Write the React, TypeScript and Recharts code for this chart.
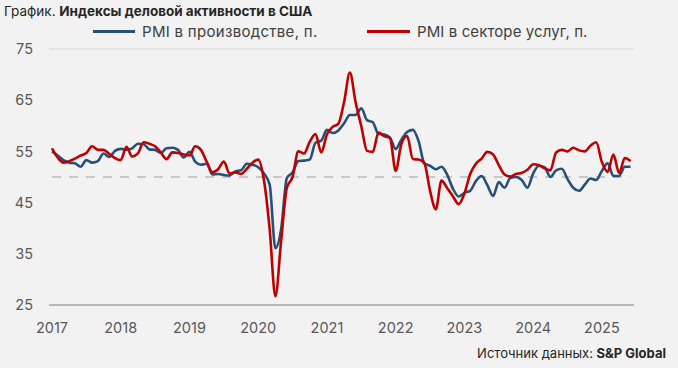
import React from 'react';
import { LineChart, Line, XAxis, YAxis, CartesianGrid, ReferenceLine } from 'recharts';

// Monthly, Jan 2017 – Jun 2025
const years = [2017, 2018, 2019, 2020, 2021, 2022, 2023, 2024, 2025];
const yTicks = [25, 35, 45, 55, 65, 75];

const manufacturing = [
  55.0, 54.2, 53.3, 52.8, 52.7, 52.0, 53.3, 52.8, 53.1, 54.6, 53.9, 55.1,
  55.5, 55.3, 55.6, 56.5, 56.4, 55.4, 55.3, 54.7, 55.6, 55.7, 55.3, 53.8,
  54.9, 53.0, 52.4, 52.6, 50.5, 50.6, 50.4, 50.3, 51.1, 51.3, 52.6, 52.4,
  51.9, 50.7, 48.5, 36.1, 39.8, 49.8, 50.9, 53.1, 53.2, 53.4, 56.7, 57.1,
  59.2, 58.6, 59.1, 60.5, 62.1, 62.1, 63.4, 61.1, 60.7, 58.4, 58.3, 57.7,
  55.5, 57.3, 58.8, 59.2, 57.0, 52.7, 52.2, 51.5, 52.0, 50.4, 47.7, 46.2,
  46.9, 47.3, 49.2, 50.2, 48.4, 46.3, 49.0, 47.9, 49.8, 50.0, 49.4, 47.9,
  50.7, 52.2, 51.9, 50.0, 51.3, 51.6, 49.6, 47.9, 47.3, 48.5, 49.7, 49.4,
  51.2, 52.7, 50.2, 50.2, 52.0, 52.0,
];

const services = [
  55.6, 53.8, 52.8, 53.1, 53.6, 54.2, 54.7, 56.0, 55.3, 55.3, 54.5, 53.7,
  53.3, 55.9, 54.0, 54.6, 56.8, 56.5, 56.0, 54.8, 53.5, 54.8, 54.7, 54.4,
  54.2, 56.0, 55.3, 53.0, 50.9, 51.5, 53.0, 50.7, 50.9, 50.6, 51.6, 52.8,
  53.4, 49.4, 39.8, 26.7, 37.5, 47.9, 50.0, 55.0, 54.6, 56.9, 58.4, 54.8,
  58.3, 59.8, 60.4, 64.7, 70.4, 64.6, 59.9, 55.1, 54.9, 58.7, 58.0, 57.6,
  51.2, 56.5, 58.0, 53.5, 53.4, 52.7, 47.3, 43.7, 49.3, 47.8, 46.2, 44.7,
  46.8, 50.6, 52.6, 53.6, 54.9, 54.4, 52.3, 50.5, 50.1, 50.6, 50.8, 51.4,
  52.5, 52.3, 51.7, 51.3, 54.8, 55.3, 55.0, 55.7, 55.2, 55.0, 56.1, 56.8,
  52.9, 51.0, 54.4, 50.8, 53.7, 53.1,
];

const data = manufacturing.map((m, i) => ({ i, m, s: services[i] }));
const xTicks = years.map((_, k) => k * 12);

const BLUE = '#26507a';
const RED = '#c00000';
const FONT = 'Inter, "Noto Sans", sans-serif';
const TICK = { fill: '#595959', fontSize: 14.5, fontFamily: FONT };

export default function App() {
  return (
    <div
      style={{
        position: 'absolute',
        left: 0,
        top: 0,
        width: 678,
        height: 368,
        background: '#f2f2f2',
        overflow: 'hidden',
        fontFamily: FONT,
      }}
    >
      <div style={{ position: 'absolute', left: 4, top: 3, fontSize: 13.5, color: '#262626', whiteSpace: 'nowrap' }}>
        График. <b>Индексы деловой активности в США</b>
      </div>

      <div style={{ position: 'absolute', left: 93, top: 22, height: 18, display: 'flex', alignItems: 'center', fontSize: 15, letterSpacing: 0.3, color: '#404040', whiteSpace: 'nowrap' }}>
        <span style={{ display: 'inline-block', width: 42, height: 3, background: BLUE, marginRight: 7 }} />
        PMI в производстве, п.
      </div>
      <div style={{ position: 'absolute', left: 367, top: 22, height: 18, display: 'flex', alignItems: 'center', fontSize: 15, letterSpacing: 0.1, color: '#404040', whiteSpace: 'nowrap' }}>
        <span style={{ display: 'inline-block', width: 43, height: 3, background: RED, marginRight: 7 }} />
        PMI в секторе услуг, п.
      </div>

      <div style={{ position: 'absolute', right: 12, top: 345, fontSize: 13, color: '#262626', whiteSpace: 'nowrap' }}>
        Источник данных: <b>S&amp;P Global</b>
      </div>

      <div style={{ position: 'absolute', left: 0, top: 0 }}>
        <LineChart
          width={678}
          height={368}
          data={data}
          margin={{ top: 49, right: 0, bottom: 33, left: 9 }}
        >
          <CartesianGrid horizontal vertical={false} stroke="#d9d9d9" strokeWidth={1} />
          <XAxis
            dataKey="i"
            type="number"
            domain={[-0.52, 101.6]}
            ticks={xTicks}
            tickFormatter={(v: number) => String(years[Math.round(v / 12)])}
            tickLine={false}
            tickSize={0}
            tickMargin={18}
            axisLine={{ stroke: '#8c8c8c', strokeWidth: 1 }}
            tick={TICK}
            height={30}
            interval={0}
          />
          <YAxis
            yAxisId="l"
            orientation="left"
            domain={[25, 75]}
            ticks={yTicks}
            tickLine={false}
            tickSize={0}
            tickMargin={16}
            axisLine={false}
            tick={TICK}
            width={40}
            interval={0}
          />
          <YAxis
            yAxisId="r"
            orientation="right"
            domain={[25, 75]}
            ticks={yTicks}
            tickLine={false}
            tickSize={0}
            tickMargin={17}
            axisLine={false}
            tick={{ ...TICK, textAnchor: 'start' }}
            width={44}
            interval={0}
          />
          <ReferenceLine
            yAxisId="l"
            segment={[{ x: 0, y: 50 }, { x: 101, y: 50 }]}
            stroke="#c8c8c8"
            strokeWidth={2}
            strokeDasharray="9 8"
          />
          <Line
            yAxisId="l"
            dataKey="m"
            name="PMI в производстве, п."
            type="monotone"
            stroke={BLUE}
            strokeWidth={2.6}
            dot={false}
            isAnimationActive={false}
          />
          <Line
            yAxisId="l"
            dataKey="s"
            name="PMI в секторе услуг, п."
            type="monotone"
            stroke={RED}
            strokeWidth={2.6}
            dot={false}
            isAnimationActive={false}
          />
        </LineChart>
      </div>
    </div>
  );
}
